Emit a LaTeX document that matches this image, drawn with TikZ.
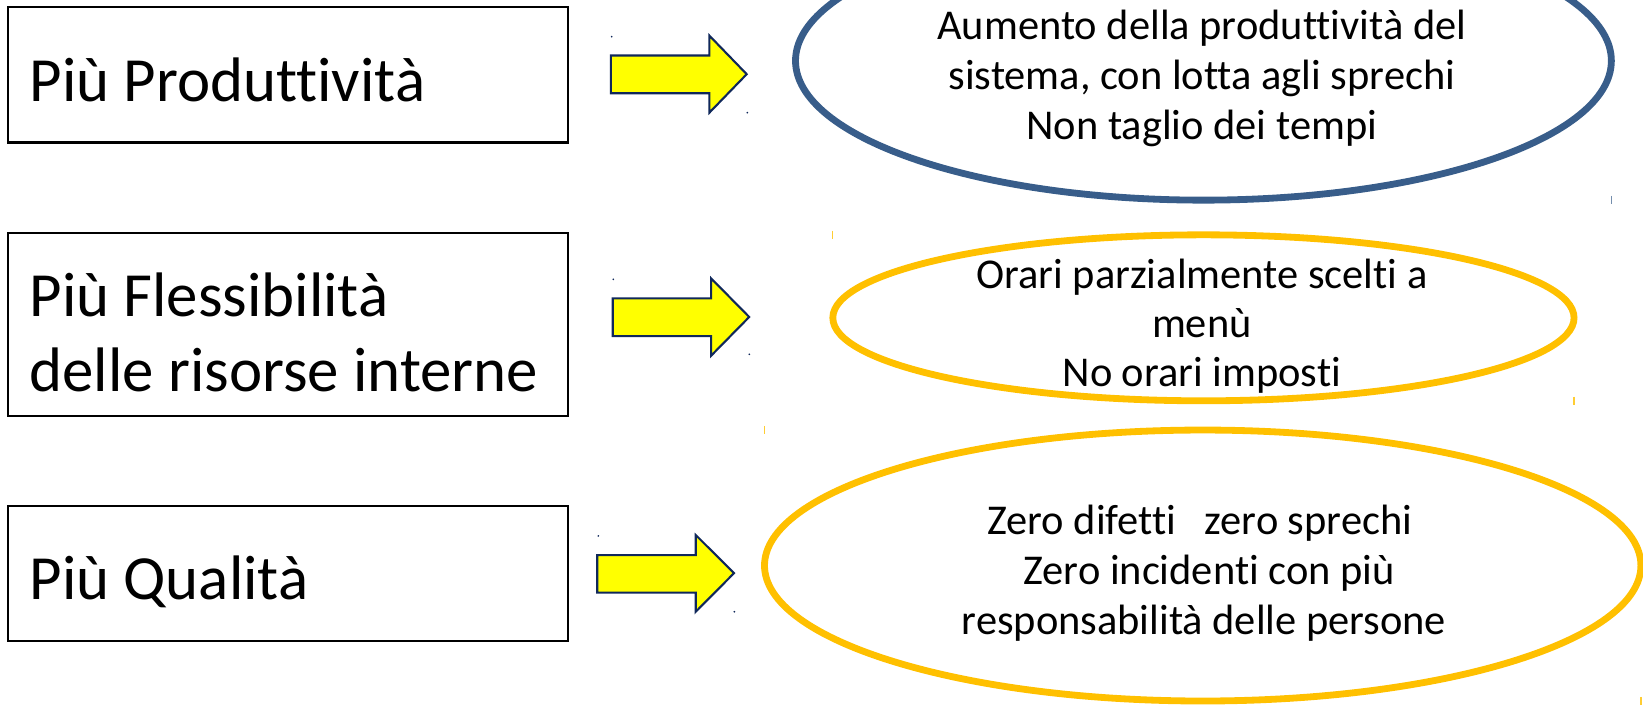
\documentclass[tikz,border=0pt]{standalone}
\usepackage{fontspec}
\setmainfont{Carlito}[Ligatures=NoCommon]
\usetikzlibrary{shapes.geometric}
\definecolor{ovalblue}{HTML}{385D8A}
\definecolor{ovalgold}{HTML}{FFC000}
\definecolor{arrowfill}{HTML}{FFFF00}
\definecolor{arrowline}{HTML}{10285A}

\begin{document}
\begin{tikzpicture}[x=1pt,y=-1pt,
  goalbox/.style={rectangle, draw=black, line width=2pt, outer sep=0pt,
    inner sep=0pt, anchor=north west},
  boxtext/.style={anchor=base west, inner sep=0pt,
    font=\fontsize{60}{72}\selectfont},
  bigarrow/.style={draw=arrowline, fill=arrowfill, line width=2pt,
    line join=miter},
  oval/.style={ellipse, draw, line width=6.5pt, outer sep=0pt, inner sep=0pt},
  ovaltext/.style={anchor=base, inner sep=0pt,
    font=\fontsize{40.5}{48}\selectfont},
  handle/.style={line width=1.3pt},
  dot/.style={fill=arrowline}
]
\useasboundingbox (0,0) rectangle (1568,673);

% left column: the three goals
\node (b1) [goalbox, minimum width=534pt, minimum height=129pt] at (8,7) {};
\node (b2) [goalbox, minimum width=534pt, minimum height=175pt] at (8,222) {};
\node (b3) [goalbox, minimum width=534pt, minimum height=129pt] at (8,483) {};

\node (b1t)  [boxtext] at (28,97)  {Più Produttività};
\node (b2t)  [boxtext] at (28,302) {Più Flessibilità};
\node (b2t2) [boxtext] at (28,374) {delle risorse interne};
\node (b3t)  [boxtext] at (28,572) {Più Qualità};

% block arrows
\draw[bigarrow] (583,53) -- (677,53) -- (677,34) -- (712.6,70.8)
  -- (677,107.5) -- (677,89) -- (583,89) -- cycle;
\draw[bigarrow] (584.8,284.7) -- (678.6,284.7) -- (678.6,265.6) -- (715,302.5)
  -- (678.6,339.5) -- (678.6,320.7) -- (584.8,320.7) -- cycle;
\draw[bigarrow] (570,529.7) -- (664,529.7) -- (664,510.6) -- (700.5,547)
  -- (664,583.8) -- (664,565.6) -- (570,565.6) -- cycle;

% selection marks left on the arrows
\fill[dot] (583.8,35) circle (0.9);
\fill[dot] (713.2,107.5) circle (0.9);
\fill[dot] (585.3,266.6) circle (0.9);
\fill[dot] (715.1,338.1) circle (0.9);
\fill[dot] (571,511.5) circle (0.9);
\fill[dot] (700.8,583.8) circle (0.9);

% right column: the ovals
\node (e1) [oval, draw=ovalblue, minimum width=778.6pt, minimum height=266pt]
  at (1148.5,58) {};
\node (e2) [oval, draw=ovalgold, minimum width=707.4pt, minimum height=158.4pt]
  at (1148.5,303.3) {};
\node (e3) [oval, draw=ovalgold, minimum width=836.4pt, minimum height=258.6pt]
  at (1147.8,539.7) {};

% selection marks left on the ovals
\draw[handle, ovalblue!70] (1537.8,187) -- (1537.8,195);
\draw[handle, ovalgold!80] (794.7,220) -- (794.7,228);
\draw[handle, ovalgold!80] (1502.2,378.5) -- (1502.2,386.5);
\draw[handle, ovalgold!80] (729.5,406.5) -- (729.5,414.3);
\draw[handle, ovalgold!80] (1566,665) -- (1566,673);

% oval texts
\node (e1a) [ovaltext] at (1147,38)    {Aumento della produttività del};
\node (e1b) [ovaltext] at (1147,85.5)  {sistema, con lotta agli sprechi};
\node (e1c) [ovaltext] at (1147,133)   {Non taglio dei tempi};

\node (e2a) [ovaltext] at (1147,275)   {Orari parzialmente scelti a};
\node (e2b) [ovaltext] at (1147,322)   {menù};
\node (e2c) [ovaltext] at (1147,369)   {No orari imposti};

\node (e3a) [ovaltext] at (1145,510)   {Zero difetti\ \ \ zero sprechi};
\node (e3b) [ovaltext] at (1154,558)   {Zero incidenti con più};
\node (e3c) [ovaltext] at (1149,606)   {responsabilità delle persone};
\end{tikzpicture}
\end{document}
